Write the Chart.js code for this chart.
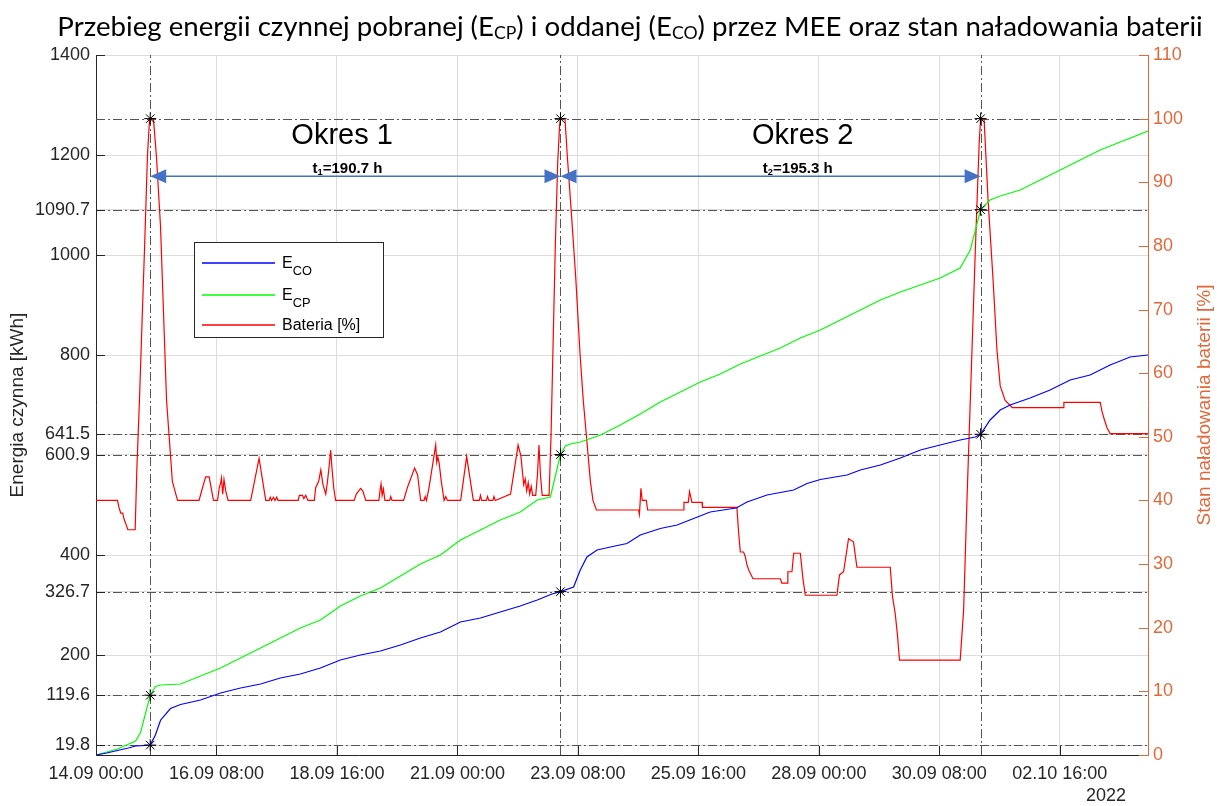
<!DOCTYPE html>
<html><head><meta charset="utf-8">
<script src="https://cdn.jsdelivr.net/npm/chart.js@4/dist/chart.umd.min.js"></script>
<style>html,body{margin:0;padding:0;background:#fff}#wrap{width:1217px;height:806px}</style>
</head><body><div id="wrap"><canvas id="c" width="1217" height="806"></canvas></div>
<script>
// ---- data (hours since 14.09.2022 00:00) ----
const START_UTC = Date.UTC(2022, 8, 14, 0, 0);
const xTickHours = [0, 56, 112, 168, 224, 280, 336, 392, 448];
const leftTickValues = [19.8, 119.6, 200, 326.7, 400, 600.9, 641.5, 800, 1000, 1090.7, 1200, 1400];
const rightTickValues = [0, 10, 20, 30, 40, 50, 60, 70, 80, 90, 100, 110];
const yearLabel = '2022';

const peakHours = [25.2, 215.9, 411.2];
const periodHours = [190.7, 195.3];
const markerHours = [25.2, 25.2, 215.9, 215.9, 411.2, 411.2];
const markerEnergy = [19.8, 119.6, 326.7, 600.9, 641.5, 1090.7];
const batteryPeakLevel = 100;

const ecoHours = [0,5,10,15,18.4,25.2,27.6,30,34.6,39.3,48.6,57.9,67.2,76.5,85.7,95,104.3,113.6,122.9,132.2,141.5,150.8,160.1,169.4,178.7,187.9,197.2,205.1,212,215.9,222,225.1,228.2,232.9,239.1,246.8,253,262.3,270.1,277.8,285.5,297.6,302.6,311.9,324.3,330.5,336.7,349.1,355.3,364.6,373.9,383.2,392.4,401.7,408.7,411.2,415.6,420.3,424.9,434.2,443.5,452.8,462.1,471.4,480.7,489];
const ecoValues = [0,4,9,14,18,19.8,40,69.6,93,101,110,124,134,142,154,162,174,190,200,208,220,234,246,266,274,286,298,310,322,326.7,336,370,396,410,416,423,440,453,460,473,486,494,506,520,530,543,551,560,570,580,594,610,620,630,636,641.5,670,690,700,714,730,750,760,780,796,800];

const ecpHours = [0,10,18.4,20.7,25.2,27.6,30,39.3,48.6,57.9,67.2,76.5,85.7,95,104.3,113.6,122.9,132.2,141.5,150.8,160.1,169.4,178.7,187.9,197.2,205.1,211.2,215.9,218.2,220.5,225.2,234.5,243.7,253,262.3,271.6,280.9,290.2,299.5,308.8,318.1,327.4,336.7,346,355.3,364.6,373.9,383.2,392.4,401.7,406.4,411.2,415.6,420.3,429.6,438.9,448.2,457.5,466.8,476.1,489];
const ecpValues = [0,12,28,45,119.6,137,140,142,158,174,194,214,234,254,270,298,318,334,358,382,400,430,450,470,486,510,516,600.9,618,622,626,640,660,682,706,726,746,762,782,798,814,834,850,870,890,910,926,940,954,974,1010,1090.7,1110,1118,1130,1150,1170,1190,1210,1226,1248];

const batHours = [0,10,10.6,11.5,12.4,13.1,14,14.8,18,18.2,19,20.2,21.4,22.6,23.9,24.9,26.7,28.1,30,32.8,35.5,37.9,
47.9,49.5,51,52.6,54.6,56.5,57.3,58,58.3,58.9,59.5,60.3,61.4,71.9,75.8,78.9,80.5,81,81.6,82.5,83.2,84,84.6,
94,94.5,96,96.6,97.5,98.5,101.5,102.1,103.5,104.5,105.5,106.8,107.6,108.4,109.1,109.7,110.5,111.4,
120,121,123,124,125.4,131.5,132,132.5,133,133.6,134.3,136.5,137,137.6,143,144.7,148.1,149.5,150.9,152.5,153,153.6,
154.8,157.9,158.4,158.9,159.5,160.5,161.8,162.6,163.3,169.5,172.3,175.4,178.2,178.7,179.3,181.5,182,182.6,184.5,185,185.6,
192.7,196.2,197.5,198.8,199.5,200.2,200.9,201.6,202.3,203,204.4,205.2,205.9,206.6,207.4,210.6,211.5,212.5,213.5,214.6,215.5,215.9,218,219.1,221,223,225,226.5,228,229.8,231,232.6,
252.2,252.6,253.3,253.9,255.8,256.4,273.1,273.3,275.3,275.9,277,281.7,281.9,297.9,298.7,299.5,301,301.8,302.5,303.5,305.4,
318.1,318.8,321.2,321.6,323.5,324.3,327.4,328.5,329.7,344.4,345.6,347.5,349.8,352.1,353.7,369.2,370.2,371.5,372.5,373.5,
401.7,403.3,404.8,406.4,408.7,410.5,411.2,412.8,414.7,417,418.8,420.3,422.6,425.9,449.6,449.9,466.8,467.6,468.8,470,471.4,489];
const batValues = [40,40,39,38,38,37,36.2,35.4,35.4,35.4,45,55.7,68,80,94,100,100,94,83,55.7,43,40,
40,42,43.7,43.7,40,40,42,42.8,43.5,41,43.3,41.5,40,40,46.6,40,40,40.5,40,40.5,40,40.5,40,
40,40.8,40.8,40.3,40.8,40,40,42,43,44.8,42.5,41,43,45.5,47.9,45,42,40,
40,41,41.9,41.5,40,40,41.5,42.6,40.8,41.8,40,40,40.6,40,40,42,45.1,44,40,40,40.6,40,
42,48.7,46,46.8,45.9,43,40,40.6,40,40,46.9,40,40,40.8,40,40,40.6,40,40,40.6,40,
41,48.7,47,42.5,43.4,41.5,42.8,41,42.2,40.8,40.8,44,48.7,44,40.8,40.8,50,65,80,93,99,100,100,94,85,75,63,55.7,50,43,40,38.5,
38.5,37.8,41.9,40,40,38.5,38.5,39.7,39.7,41.4,39.7,39.7,38.9,38.9,35,31.9,31.9,31.2,30,29,27.7,
27.7,27,27,28.8,28.8,31.7,31.7,28,25.1,25.1,28.3,28.8,34,33.5,29.5,29.5,25,22.2,19,14.9,
14.9,22.8,39.5,55.7,79,96,100,100,87,74.6,63.6,58,55.7,54.6,54.6,55.4,55.4,54,52.6,51.4,50.5,50.5];

// ---- styling ----
const FONT = "'Liberation Sans', Arial, Helvetica, sans-serif";
const AX = '#262626';
const ORANGE = '#E2683A';
const GRID = '#dcdcdc';
const ARROW = '#4472C4';

const toXY = (hs, vs) => hs.map((h, i) => ({ x: h, y: vs[i] }));
function fmtHour(h) {
  const d = new Date(START_UTC + h * 3600000);
  const p = n => String(n).padStart(2, '0');
  return p(d.getUTCDate()) + '.' + p(d.getUTCMonth() + 1) + ' ' + p(d.getUTCHours()) + ':' + p(d.getUTCMinutes());
}

function drawRich(ctx, parts, cx, baseline, size, family, weight, color, subScale, subShift) {
  ctx.fillStyle = color;
  ctx.textBaseline = 'alphabetic';
  ctx.textAlign = 'left';
  let total = 0;
  const ws = parts.map(([t, sub]) => {
    ctx.font = weight + ' ' + (sub ? size * subScale : size) + 'px ' + family;
    const w = ctx.measureText(t).width; total += w; return w;
  });
  let x = cx - total / 2;
  parts.forEach(([t, sub], i) => {
    ctx.font = weight + ' ' + (sub ? size * subScale : size) + 'px ' + family;
    ctx.fillText(t, x, baseline + (sub ? size * subShift : 0));
    x += ws[i];
  });
  return total;
}
function drawRichLeft(ctx, parts, x0, baseline, size, family, color, subScale, subShift) {
  ctx.fillStyle = color; ctx.textBaseline = 'alphabetic'; ctx.textAlign = 'left';
  let x = x0;
  parts.forEach(([t, sub]) => {
    ctx.font = (sub ? size * subScale : size) + 'px ' + family;
    ctx.fillText(t, x, baseline + (sub ? size * subShift : 0));
    x += ctx.measureText(t).width;
  });
}
function arrowHead(ctx, tipX, y, dir) {
  const L = 16, W = 7;
  ctx.beginPath();
  ctx.moveTo(tipX, y);
  ctx.lineTo(tipX - dir * L, y - W);
  ctx.lineTo(tipX - dir * L, y + W);
  ctx.closePath();
  ctx.fill();
}

const overlay = {
  id: 'overlay',
  beforeDatasetsDraw(chart) {
    const { ctx, chartArea: a, scales: { x, y, y1 } } = chart;
    ctx.save();
    ctx.beginPath(); ctx.rect(a.left, a.top, a.right - a.left, a.bottom - a.top); ctx.clip();
    ctx.strokeStyle = '#555555'; ctx.lineWidth = 1; ctx.setLineDash([9, 3, 2, 3]);
    const hl = py => { ctx.beginPath(); ctx.moveTo(a.left, py); ctx.lineTo(a.right, py); ctx.stroke(); };
    markerEnergy.forEach(v => hl(Math.round(y.getPixelForValue(v)) + 0.5));
    hl(Math.round(y1.getPixelForValue(batteryPeakLevel)) + 0.5);
    peakHours.forEach(h => {
      const px = Math.round(x.getPixelForValue(h)) + 0.5;
      ctx.beginPath(); ctx.moveTo(px, a.bottom); ctx.lineTo(px, a.top); ctx.stroke();
    });
    ctx.restore();
  },
  afterDraw(chart) {
    const { ctx, chartArea: a, scales: { x, y, y1 } } = chart;
    ctx.save();
    // inward tick marks
    ctx.lineWidth = 1; ctx.setLineDash([]);
    ctx.strokeStyle = AX;
    leftTickValues.forEach(v => { const py = Math.round(y.getPixelForValue(v)) + 0.5; ctx.beginPath(); ctx.moveTo(a.left, py); ctx.lineTo(a.left + 9, py); ctx.stroke(); });
    xTickHours.forEach(h => { const px = Math.round(x.getPixelForValue(h)) + 0.5; ctx.beginPath(); ctx.moveTo(px, a.bottom); ctx.lineTo(px, a.bottom - 9); ctx.stroke(); });
    ctx.strokeStyle = ORANGE;
    rightTickValues.forEach(v => { const py = Math.round(y1.getPixelForValue(v)) + 0.5; ctx.beginPath(); ctx.moveTo(a.right, py); ctx.lineTo(a.right - 9, py); ctx.stroke(); });

    // title
    const titleParts = [['Przebieg energii czynnej pobranej (E', 0], ['CP', 1], [') i oddanej (E', 0], ['CO', 1], [') przez MEE oraz stan naładowania baterii', 0]];
    let w0 = 0;
    titleParts.forEach(([t, s]) => { ctx.font = (s ? 24 * 0.64 : 24) + 'px Lato'; w0 += ctx.measureText(t).width; });
    const tSize = 24 * 1146 / w0;
    drawRich(ctx, titleParts, 630, 36, tSize, 'Lato', 'normal', '#000', 0.64, 0.1);

    // axis titles
    ctx.font = '19px ' + FONT; ctx.textAlign = 'center'; ctx.textBaseline = 'middle';
    ctx.save(); ctx.translate(18, (a.top + a.bottom) / 2); ctx.rotate(-Math.PI / 2);
    ctx.fillStyle = AX; ctx.fillText('Energia czynna [kWh]', 0, 0); ctx.restore();
    ctx.save(); ctx.translate(1205, (a.top + a.bottom) / 2); ctx.rotate(-Math.PI / 2);
    ctx.fillStyle = ORANGE; ctx.fillText('Stan naładowania baterii [%]', 0, 0); ctx.restore();

    // year label
    ctx.font = '18px ' + FONT; ctx.fillStyle = AX; ctx.textAlign = 'center'; ctx.textBaseline = 'middle';
    ctx.fillText(yearLabel, 1106, 796);

    // period arrows
    const ay = y.getPixelForValue(1157.6);
    ctx.strokeStyle = ARROW; ctx.fillStyle = ARROW; ctx.lineWidth = 1.5;
    for (let i = 0; i < 2; i++) {
      const x1 = x.getPixelForValue(peakHours[i]), x2 = x.getPixelForValue(peakHours[i + 1]);
      ctx.beginPath(); ctx.moveTo(x1 + 10, ay); ctx.lineTo(x2 - 10, ay); ctx.stroke();
      arrowHead(ctx, x1, ay, -1); arrowHead(ctx, x2, ay, 1);
    }
    // period labels
    ctx.font = '29px ' + FONT; ctx.fillStyle = '#000'; ctx.textAlign = 'center'; ctx.textBaseline = 'middle';
    ctx.fillText('Okres 1', x.getPixelForValue(114.4), y.getPixelForValue(1237.6));
    ctx.fillText('Okres 2', x.getPixelForValue(328.5), y.getPixelForValue(1237.6));
    const tb = y.getPixelForValue(1176) + 5.5;
    drawRich(ctx, [['t', 0], ['1', 1], ['=' + periodHours[0].toFixed(1) + ' h', 0]], x.getPixelForValue(116.9), tb, 15, FONT, 'bold', '#000', 0.62, 0.15);
    drawRich(ctx, [['t', 0], ['2', 1], ['=' + periodHours[1].toFixed(1) + ' h', 0]], x.getPixelForValue(326.2), tb, 15, FONT, 'bold', '#000', 0.62, 0.15);

    // legend
    const lx = 194.5, ly = 242.5, lw = 189, lh = 95;
    ctx.fillStyle = '#fff'; ctx.fillRect(lx, ly, lw, lh);
    ctx.strokeStyle = AX; ctx.lineWidth = 1; ctx.strokeRect(lx, ly, lw, lh);
    const items = [
      { c: '#0000ff', parts: [['E', 0], ['CO', 1]], yy: 263 },
      { c: '#00ff00', parts: [['E', 0], ['CP', 1]], yy: 295 },
      { c: '#ff0000', parts: [['Bateria [%]', 0]], yy: 325 }
    ];
    items.forEach(it => {
      ctx.strokeStyle = it.c; ctx.lineWidth = 1.5;
      ctx.beginPath(); ctx.moveTo(202, it.yy); ctx.lineTo(275, it.yy); ctx.stroke();
      drawRichLeft(ctx, it.parts, 282, it.yy + 5, 16, FONT, '#000', 0.8, 0.45);
    });
    ctx.restore();
  }
};

const tickFont = { family: FONT, size: 18 };
new Chart(document.getElementById('c'), {
  type: 'line',
  data: {
    datasets: [
      { type: 'scatter', data: toXY(markerHours, markerEnergy), yAxisID: 'y', pointStyle: 'star', pointRadius: 6, borderColor: '#000', backgroundColor: '#000', borderWidth: 1, showLine: false, order: 0 },
      { type: 'scatter', data: peakHours.map(h => ({ x: h, y: batteryPeakLevel })), yAxisID: 'y1', pointStyle: 'star', pointRadius: 6, borderColor: '#000', backgroundColor: '#000', borderWidth: 1, showLine: false, order: 0 },
      { label: 'Bateria [%]', data: toXY(batHours, batValues), yAxisID: 'y1', borderColor: '#ff0000', borderWidth: 1.2, pointRadius: 0, tension: 0, fill: false, order: 3 },
      { label: 'E_CO', data: toXY(ecoHours, ecoValues), yAxisID: 'y', borderColor: '#0000ff', borderWidth: 1.2, pointRadius: 0, tension: 0, fill: false, order: 1 },
      { label: 'E_CP', data: toXY(ecpHours, ecpValues), yAxisID: 'y', borderColor: '#00ff00', borderWidth: 1.2, pointRadius: 0, tension: 0, fill: false, order: 2 }
    ]
  },
  options: {
    responsive: false, animation: false, devicePixelRatio: 1,
    layout: { padding: { top: 55, left: 0, right: 0, bottom: 0 } },
    plugins: { legend: { display: false }, tooltip: { enabled: false }, title: { display: false } },
    scales: {
      x: {
        type: 'linear', min: 0, max: 489,
        afterBuildTicks: s => { s.ticks = xTickHours.map(v => ({ value: v })); },
        ticks: { callback: v => fmtHour(v), color: AX, font: tickFont, padding: 8, maxRotation: 0, autoSkip: false },
        grid: { color: GRID, drawTicks: false, lineWidth: 1 },
        border: { color: AX, width: 1 },
        afterFit: s => { s.height = 51; }
      },
      y: {
        position: 'left', min: 0, max: 1400,
        afterBuildTicks: s => { s.ticks = leftTickValues.map(v => ({ value: v })); },
        ticks: { callback: v => String(v), color: AX, font: tickFont, padding: 6, autoSkip: false },
        grid: { color: GRID, drawTicks: false, lineWidth: 1 },
        border: { color: AX, width: 1 },
        afterFit: s => { s.width = 96; }
      },
      y1: {
        position: 'right', min: 0, max: 110,
        afterBuildTicks: s => { s.ticks = rightTickValues.map(v => ({ value: v })); },
        ticks: { callback: v => String(v), color: ORANGE, font: tickFont, padding: 5, autoSkip: false },
        grid: { drawOnChartArea: false, drawTicks: false },
        border: { color: ORANGE, width: 1 },
        afterFit: s => { s.width = 69; }
      }
    }
  },
  plugins: [overlay]
});
</script>
</body></html>
